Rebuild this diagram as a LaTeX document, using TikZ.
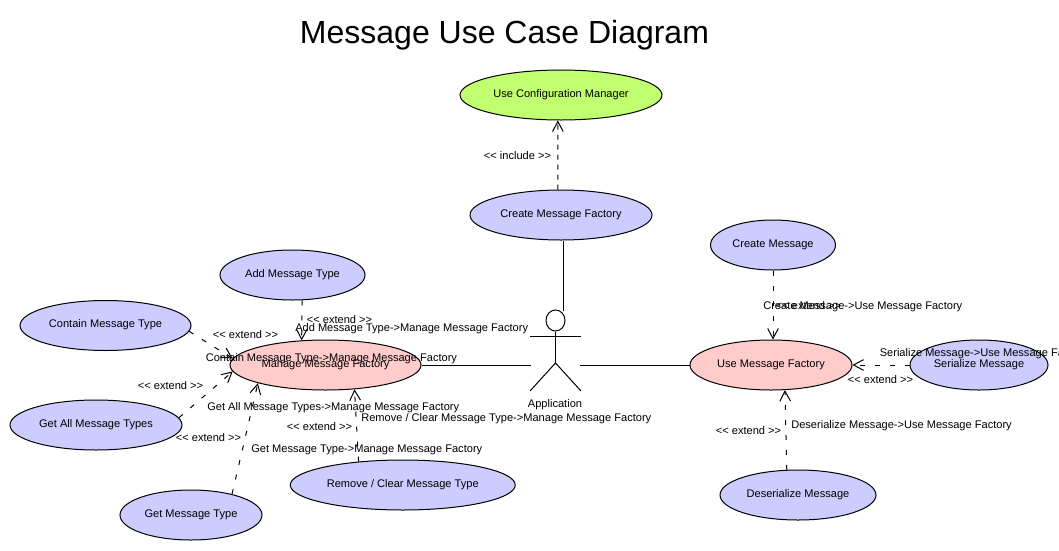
\documentclass[tikz,border=0pt]{standalone}
\usepackage{fontspec}
\usepackage{tikz}
\usetikzlibrary{shapes.geometric, arrows.meta}
\newfontfamily\umlfont{Liberation Sans}
\definecolor{caseblue}{HTML}{CCCCFF}
\definecolor{casepink}{HTML}{FFCCCC}
\definecolor{casegreen}{HTML}{C0FF70}
\tikzset{
  usecase/.style={draw=black, ellipse, inner sep=0pt, line width=0.75pt, text height=5.5pt, text depth=2.5pt},
  dep/.style={dash pattern=on 3.75pt off 7.5pt, line width=0.75pt, -{Straight Barb[length=7.5pt,width=8pt]}},
  assoc/.style={line width=0.75pt},
  lbl/.style={anchor=west, inner sep=0pt},
  stereo/.style={inner sep=0pt}
}

\begin{document}
\begin{tikzpicture}[x=0.75pt,y=-0.75pt,every node/.style={font=\umlfont\fontsize{8.3}{9}\selectfont}]
\useasboundingbox (0,0) rectangle (1059,550);
\node[inner sep=0pt,font=\umlfont\fontsize{24}{28}\selectfont] (title) at (504.5,35) {Message Use Case Diagram};

% use cases
\node[usecase,fill=casegreen,minimum width=151.5pt,minimum height=37.5pt] (useConfig) at (561,95) {Use Configuration Manager};
\node[usecase,fill=caseblue,minimum width=136.5pt,minimum height=37.5pt] (createFactory) at (561,215) {Create Message Factory};
\node[usecase,fill=caseblue,minimum width=108.75pt,minimum height=37.5pt] (addType) at (292.5,275) {Add Message Type};
\node[usecase,fill=caseblue,minimum width=128.25pt,minimum height=37.5pt] (containType) at (105.5,325.5) {Contain Message Type};
\node[usecase,fill=casepink,minimum width=143.25pt,minimum height=37.5pt] (manageFactory) at (325.5,365) {Manage Message Factory};
\node[usecase,fill=caseblue,minimum width=129pt,minimum height=37.5pt] (getAllTypes) at (96,425) {Get All Message Types};
\node[usecase,fill=caseblue,minimum width=106.5pt,minimum height=37.5pt] (getType) at (191,515) {Get Message Type};
\node[usecase,fill=caseblue,minimum width=168.75pt,minimum height=37.5pt] (removeType) at (402.75,485) {Remove / Clear Message Type};
\node[usecase,fill=caseblue,minimum width=93.75pt,minimum height=37.5pt] (createMsg) at (773,245) {Create Message};
\node[usecase,fill=casepink,minimum width=121.5pt,minimum height=37.5pt] (useFactory) at (771,365) {Use Message Factory};
\node[usecase,fill=caseblue,minimum width=103.5pt,minimum height=37.5pt] (serializeMsg) at (979,365) {Serialize Message};
\node[usecase,fill=caseblue,minimum width=117pt,minimum height=37.5pt] (deserializeMsg) at (798,495) {Deserialize Message};

% actor
\node[draw=black,ellipse,line width=0.75pt,inner sep=0pt,minimum width=14.25pt,minimum height=15.75pt] (head) at (555.5,320.5) {};
\coordinate (actorTop) at (563,311);
\coordinate (actorLeft) at (531,365);
\coordinate (actorRight) at (580,365);
\coordinate (armL) at (530,336);
\coordinate (armR) at (581,336);
\coordinate (hip) at (555.5,363);
\coordinate (legL) at (530,391);
\coordinate (legR) at (581,391);
\draw[assoc] (armL) -- (armR);
\draw[assoc] (head) -- (hip);
\draw[assoc] (legL) -- (hip) -- (legR);
\node[inner sep=0pt] (application) at (555,405) {Application};

% associations
\draw[assoc] (actorTop |- createFactory.south) -- (actorTop);
\draw[assoc] (manageFactory.east) -- (actorLeft);
\draw[assoc] (actorRight) -- (useFactory.west);

% dependencies
\draw[dep,dash pattern=on 3.75pt off 3.75pt] (createFactory.97) -- (useConfig.263);
\draw[dep] (addType.291) -- (manageFactory.134);
\draw[dep] (containType.356) -- (manageFactory.176);
\draw[dep] (getAllTypes.5) -- (manageFactory.184);
\draw[dep] (getType.27) -- (manageFactory.195);
\draw[dep] (removeType.152) -- (manageFactory.320);
\draw[dep] (createMsg.south) -- (createMsg.south |- useFactory.north);
\draw[dep] (serializeMsg) -- (useFactory);
\draw[dep] (deserializeMsg.114) -- (useFactory.299);

% stereotypes
\node[stereo] (inc) at (517.5,156) {<{}< include >{}>};
\foreach \n/\x/\y in {ext1/339.5/320,ext2/245.5/335,ext3/170.5/386,ext4/208.5/438,ext5/319.5/427,ext6/808.5/306,ext7/880.5/380,ext8/748.5/431}
\node[stereo] (\n) at (\x,\y) {<{}< extend >{}>};

% dependency names
\node[lbl] (nameAdd) at (295,329) {Add Message Type->Manage Message Factory};
\node[lbl] (nameContain) at (205.5,359) {Contain Message Type->Manage Message Factory};
\node[lbl] (nameGetAll) at (207,408) {Get All Message Types->Manage Message Factory};
\node[lbl] (nameRemove) at (361,419) {Remove / Clear Message Type->Manage Message Factory};
\node[lbl] (nameGet) at (251,450) {Get Message Type->Manage Message Factory};
\node[lbl] (nameCreate) at (763,307) {Create Message->Use Message Factory};
\node[lbl] (nameSerialize) at (879.5,354) {Serialize Message->Use Message Factory};
\node[lbl] (nameDeserialize) at (791,426) {Deserialize Message->Use Message Factory};
\end{tikzpicture}
\end{document}
